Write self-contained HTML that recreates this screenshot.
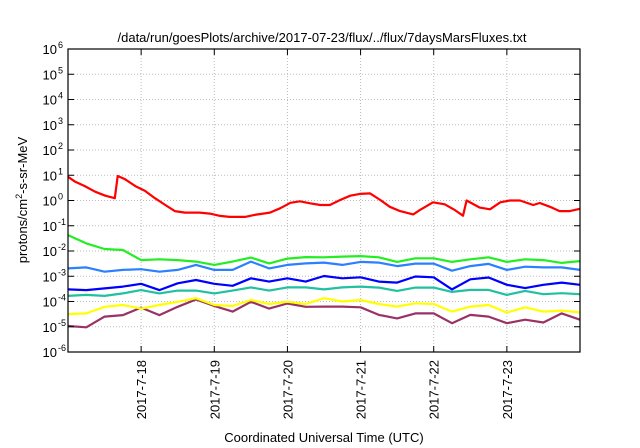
<!DOCTYPE html>
<html><head><meta charset="utf-8"><style>
html,body{margin:0;padding:0;background:#fff;}
svg{display:block;font-family:"Liberation Sans",sans-serif;}
</style></head><body>
<svg id="chart" width="640" height="448" viewBox="0 0 640 448">
<text x="322" y="42" font-size="13" text-anchor="middle" fill="#000">/data/run/goesPlots/archive/2017-07-23/flux/../flux/7daysMarsFluxes.txt</text>
<text x="324" y="442" font-size="13" text-anchor="middle" fill="#000">Coordinated Universal Time (UTC)</text>
<text transform="translate(27,200) rotate(-90)" font-size="13" text-anchor="middle" fill="#000">protons/cm<tspan dy="-5" font-size="9">2</tspan><tspan dy="5">-s-sr-MeV</tspan></text>
<g id="grid"></g><g id="series"></g><g id="axes"></g>
</svg>
<script>
const dayTicks = [18,19,20,21,22,23];
const dayLabels = ["2017-7-18","2017-7-19","2017-7-20","2017-7-21","2017-7-22","2017-7-23"];
const decadeTicks = [-6,-5,-4,-3,-2,-1,0,1,2,3,4,5,6];
const redTimes = [17.00,17.10,17.23,17.37,17.51,17.64,17.68,17.78,17.92,18.05,18.19,18.33,18.46,18.60,18.80,18.94,19.08,19.21,19.42,19.55,19.76,19.90,20.04,20.17,20.31,20.45,20.58,20.72,20.86,20.99,21.13,21.27,21.40,21.54,21.72,21.81,21.99,22.15,22.29,22.40,22.45,22.63,22.77,22.91,23.04,23.18,23.36,23.45,23.59,23.72,23.86,24.00];
const redLog = [0.94,0.74,0.57,0.35,0.19,0.09,0.97,0.84,0.57,0.39,0.09,-0.18,-0.42,-0.48,-0.48,-0.52,-0.61,-0.65,-0.65,-0.57,-0.48,-0.31,-0.09,-0.03,-0.11,-0.18,-0.18,0.02,0.19,0.26,0.28,0.02,-0.25,-0.42,-0.55,-0.38,-0.07,-0.15,-0.38,-0.60,0.0,-0.28,-0.35,-0.07,0.0,0.0,-0.18,-0.10,-0.25,-0.42,-0.42,-0.33];
const gridTimes = [17,17.25,17.5,17.75,18,18.25,18.5,18.75,19,19.25,19.5,19.75,20,20.25,20.5,20.75,21,21.25,21.5,21.75,22,22.25,22.5,22.75,23,23.25,23.5,23.75,24];
const greenLog = [-1.37,-1.70,-1.92,-1.96,-2.36,-2.33,-2.36,-2.42,-2.55,-2.42,-2.26,-2.49,-2.30,-2.24,-2.25,-2.22,-2.20,-2.25,-2.43,-2.29,-2.29,-2.43,-2.33,-2.25,-2.43,-2.33,-2.36,-2.47,-2.40];
const lightBlueLog = [-2.69,-2.65,-2.82,-2.75,-2.72,-2.82,-2.75,-2.55,-2.75,-2.75,-2.42,-2.69,-2.55,-2.49,-2.46,-2.55,-2.43,-2.46,-2.60,-2.50,-2.50,-2.78,-2.60,-2.51,-2.75,-2.62,-2.65,-2.65,-2.75];
const blueLog = [-3.52,-3.55,-3.48,-3.41,-3.30,-3.55,-3.28,-3.15,-3.30,-3.38,-3.08,-3.21,-3.08,-3.21,-2.99,-3.08,-3.04,-3.21,-3.25,-3.01,-3.04,-3.52,-3.12,-3.05,-3.34,-3.47,-3.34,-3.25,-3.34];
const tealLog = [-3.78,-3.74,-3.78,-3.68,-3.55,-3.68,-3.57,-3.57,-3.68,-3.57,-3.44,-3.57,-3.44,-3.44,-3.52,-3.44,-3.41,-3.45,-3.58,-3.45,-3.45,-3.62,-3.54,-3.54,-3.74,-3.58,-3.71,-3.67,-3.71];
const yellowLog = [-4.50,-4.47,-4.21,-4.14,-4.28,-4.14,-4.01,-3.87,-4.14,-4.18,-3.94,-4.10,-4.01,-4.10,-3.87,-4.00,-3.94,-4.10,-4.20,-4.07,-4.10,-4.40,-4.20,-4.14,-4.44,-4.23,-4.40,-4.36,-4.43];
const purpleLog = [-4.97,-5.02,-4.60,-4.54,-4.24,-4.54,-4.21,-3.92,-4.18,-4.40,-4.01,-4.28,-4.08,-4.21,-4.20,-4.20,-4.23,-4.53,-4.67,-4.47,-4.47,-4.86,-4.53,-4.60,-4.86,-4.72,-4.83,-4.47,-4.72];

const L=68,R=580,T=49,B=352;
const xScale=t=>L+(t-17)/7*(R-L);
const yScale=e=>B-(e+6)/12*(B-T);
const NS="http://www.w3.org/2000/svg";
function mk(tag,attrs,parent){const el=document.createElementNS(NS,tag);for(const k in attrs)el.setAttribute(k,attrs[k]);parent.appendChild(el);return el;}
const grid=document.getElementById('grid'),axes=document.getElementById('axes'),ser=document.getElementById('series');
decadeTicks.forEach(e=>{
  const y=yScale(e);
  if(e>-6&&e<6){const g=mk('line',{x1:L,x2:R,y1:y,y2:y,stroke:'#bbb','stroke-width':1,'stroke-dasharray':'1,2'},grid);
  
  }
  mk('line',{x1:L,x2:L+6,y1:y,y2:y,stroke:'#000'},axes);
  mk('line',{x1:R-6,x2:R,y1:y,y2:y,stroke:'#000'},axes);
  const t=mk('text',{x:57,y:y+5,'font-size':13,'text-anchor':'end',fill:'#000'},axes);
  
  
  t.textContent='10';
  const s=mk('tspan',{x:58,y:y-1,'font-size':9,'text-anchor':'start'},t);s.textContent=String(e);
  s.setAttribute('text-anchor','start');
});
dayTicks.forEach((d,i)=>{
  const x=xScale(d);
  const g=mk('line',{x1:x,x2:x,y1:T,y2:B,stroke:'#bbb','stroke-width':1,'stroke-dasharray':'1,2'},grid);
  
  
  mk('line',{x1:x,x2:x,y1:B,y2:B-6,stroke:'#000'},axes);
  mk('line',{x1:x,x2:x,y1:T,y2:T+6,stroke:'#000'},axes);
  const t=mk('text',{transform:`translate(${x+5},360) rotate(-90)`,'font-size':13,'text-anchor':'end',fill:'#000'},axes);
  
  
  t.textContent=dayLabels[i];
});
const fr=mk('rect',{x:L,y:T,width:R-L,height:B-T,fill:'none',stroke:'#000','stroke-width':1.2},axes);


function line(times,vals,color,name){
  const d=times.map((t,i)=>(i?'L':'M')+xScale(t).toFixed(1)+','+yScale(vals[i]).toFixed(1)).join('');
  const p=mk('path',{d:d,fill:'none',stroke:color,'stroke-width':2.2,'stroke-linejoin':'round'},ser);
  
  
}
line(gridTimes,purpleLog,'#993366','series-purple');
line(gridTimes,yellowLog,'#ffff00','series-yellow');
line(gridTimes,tealLog,'#20c0a0','series-teal');
line(gridTimes,blueLog,'#0000ff','series-blue');
line(gridTimes,lightBlueLog,'#2a80ff','series-light-blue');
line(gridTimes,greenLog,'#22ee22','series-green');
line(redTimes,redLog,'#ff0000','series-red');
</script>
</body></html>
